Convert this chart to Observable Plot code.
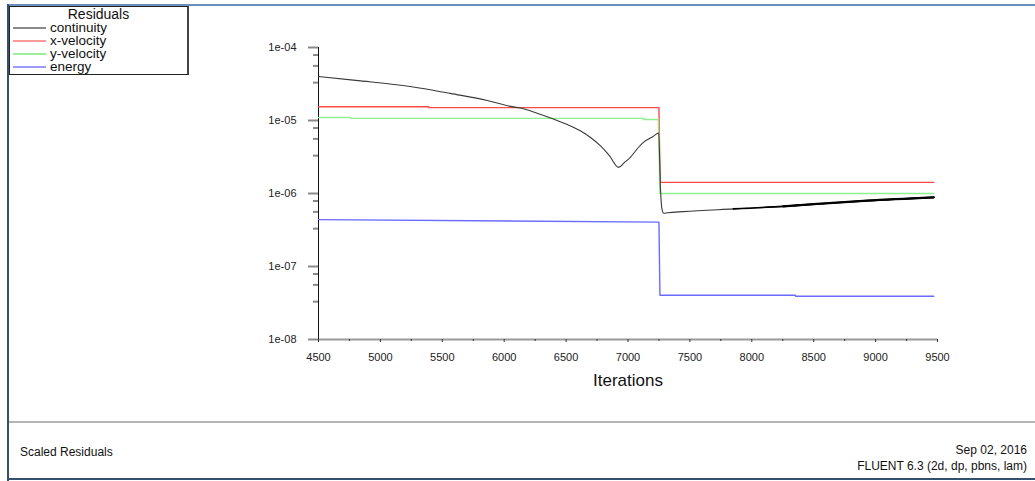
<!DOCTYPE html>
<html>
<head>
<meta charset="utf-8">
<script src="https://cdn.jsdelivr.net/npm/d3@7"></script>
<script src="https://cdn.jsdelivr.net/npm/@observablehq/plot@0.6"></script>
<style>
  html, body { margin: 0; padding: 0; background: #fff; overflow: hidden; }
  #wrap { position: relative; width: 1035px; height: 481px; font-family: "Liberation Sans", Arial, sans-serif; }
  #chart { position: absolute; left: 0; top: 0; }
  .border-top { position: absolute; left: 8px; top: 4px; width: 1027px; height: 2px; background: #6a8fc0; }
  .border-left { position: absolute; left: 7px; top: 4px; width: 2px; height: 477px; background: #34506e; }
  .border-bottom { position: absolute; left: 7px; top: 478px; width: 1028px; height: 2px; background: #34506e; }
  .sep { position: absolute; left: 9px; top: 421px; width: 1026px; height: 2px; background: #b4b4b4; }
  #legend { position: absolute; left: 9px; top: 6px; width: 177px; height: 67px; border: 1px solid #222; border-right: 2px solid #444; background: #fff; overflow: hidden; }
  #legend .title { position: absolute; left: 0; width: 177px; top: 0px; height: 14px; line-height: 14px; text-align: center; font-size: 14px; color: #111; }
  #legend .row { position: absolute; left: 2px; font-size: 13.5px; color: #111; line-height: 13px; height: 13px; }
  #legend .sw { position: absolute; left: 1px; width: 33px; height: 2px; }
  #legend .lbl { position: absolute; left: 38px; top: 0; white-space: nowrap; }
  .foot { position: absolute; font-size: 12px; color: #111; }
</style>
</head>
<body>
<div id="wrap">
  <div id="chart"></div>
  <div class="border-top"></div>
  <div class="border-left"></div>
  <div class="sep"></div>
  <div class="border-bottom"></div>
  <div id="legend"></div>
  <div class="foot" style="left:20px; top:445px;">Scaled Residuals</div>
  <div class="foot" style="right:8px; top:443px; text-align:right;">Sep 02, 2016</div>
  <div class="foot" style="right:8px; top:459px; text-align:right;">FLUENT 6.3 (2d, dp, pbns, lam)</div>
</div>
<script>
// ---- data ----
const seriesNames = ["continuity", "x-velocity", "y-velocity", "energy"];
const seriesColors = ["#3a3a3a", "#ff4a4a", "#8ef08e", "#6b6bff"];
const legendColors = ["#8a8a8a", "#ff9a9a", "#9af09a", "#9a9aff"];

const contIter = [4500, 4800, 5241, 5403, 5564, 5863, 6049, 6130, 6260, 6397, 6510, 6615, 6700, 6776, 6850, 6924, 6970, 7019, 7070, 7124, 7200, 7248, 7262, 7275, 7288, 7320, 7447, 7851, 8255, 8529, 8933, 9470];
const contVal  = [4.01e-5, 3.55e-5, 2.93e-5, 2.64e-5, 2.35e-5, 1.88e-5, 1.56e-5, 1.48e-5, 1.27e-5, 1.05e-5, 8.8e-6, 7.24e-6, 5.8e-6, 4.52e-6, 3.3e-6, 2.28e-6, 2.65e-6, 3.13e-6, 4.0e-6, 5.01e-6, 6.0e-6, 6.75e-6, 1.2e-6, 6.0e-7, 5.36e-7, 5.45e-7, 5.65e-7, 6.15e-7, 6.67e-7, 7.19e-7, 7.98e-7, 8.85e-7];

const xvelIter = [4500, 5390, 5391, 7250, 7256, 7262, 9470];
const xvelVal  = [1.545e-5, 1.545e-5, 1.50e-5, 1.50e-5, 3.0e-6, 1.42e-6, 1.42e-6];

const yvelIter = [4500, 4760, 4761, 7124, 7125, 7245, 7258, 9470];
const yvelVal  = [1.10e-5, 1.10e-5, 1.07e-5, 1.07e-5, 1.03e-5, 1.03e-5, 1.0e-6, 1.0e-6];

const enerIter = [4500, 7250, 7258, 8353, 8354, 9470];
const enerVal  = [4.39e-7, 4.05e-7, 4.04e-8, 4.04e-8, 3.92e-8, 3.92e-8];

const yMajorTicks = [1e-4, 1e-5, 1e-6, 1e-7, 1e-8];
const yMinorMult = [0.79, 0.56, 0.33];
const xMajorTicks = [4500, 5000, 5500, 6000, 6500, 7000, 7500, 8000, 8500, 9000, 9500];
const xMinorTicks = [4750, 5250, 5750, 6250, 6750, 7250, 7750, 8250, 8750, 9250];

// ---- build ----
function toRows(name, its, vals) { return its.map((it, i) => ({series: name, it, v: vals[i]})); }
const rows = [
  ...toRows("continuity", contIter, contVal),
  ...toRows("x-velocity", xvelIter, xvelVal),
  ...toRows("y-velocity", yvelIter, yvelVal),
  ...toRows("energy", enerIter, enerVal)
];
const yMinorTicks = [];
for (const d of [1e-4, 1e-5, 1e-6, 1e-7]) for (const m of yMinorMult) yMinorTicks.push(d * m);

const fmt = d => "1e-0" + Math.round(-Math.log10(d));

const chart = Plot.plot({
  width: 1035,
  height: 423,
  marginLeft: 318,
  marginRight: 98,
  marginTop: 47,
  marginBottom: 84,
  style: {fontFamily: "'Liberation Sans', Arial, sans-serif", background: "transparent"},
  x: {domain: [4500, 9500]},
  y: {type: "log", domain: [1e-8, 1e-4]},
  color: {domain: seriesNames, range: seriesColors},
  marks: [
    Plot.ruleY([1e-8], {stroke: "#9a9a9a", strokeWidth: 2}),
    Plot.axisY({ticks: yMajorTicks, tickSize: 10, tickPadding: 12, tickFormat: fmt, label: null, fontSize: 11, stroke: "#8a8a8a", strokeWidth: 2, fill: "#222"}),
    Plot.axisY({ticks: yMinorTicks, tickSize: 5, tickFormat: () => "", label: null, stroke: "#8a8a8a", strokeWidth: 2}),
    Plot.ruleX([4500], {stroke: "#111", strokeWidth: 1}),
    Plot.axisX({ticks: xMajorTicks, tickSize: 3, tickPadding: 11, tickFormat: d => String(d), label: null, fontSize: 11, stroke: "#333", fill: "#222"}),
    Plot.axisX({ticks: xMinorTicks, tickSize: 2, tickFormat: () => "", label: null, stroke: "#333"}),
    Plot.line(rows.filter(d => d.series !== "continuity"), {x: "it", y: "v", z: "series", stroke: "series", strokeWidth: 1.4}),
    Plot.line(rows.filter(d => d.series === "continuity"), {x: "it", y: "v", stroke: "series", strokeWidth: 1.1, curve: "monotone-x"}),
    Plot.line(rows.filter(d => d.series === "continuity" && d.it >= 7851), {x: "it", y: "v", stroke: "#000", strokeWidth: 1.6, curve: "monotone-x"}),
    Plot.line(rows.filter(d => d.series === "continuity" && d.it >= 8255), {x: "it", y: "v", stroke: "#000", strokeWidth: 2.2, curve: "monotone-x"}),
    Plot.text(["Iterations"], {frameAnchor: "bottom", dy: 46, fontSize: 17, fill: "#111"})
  ]
});
document.getElementById("chart").appendChild(chart);

// legend
const lg = document.getElementById("legend");
const t = document.createElement("div");
t.className = "title"; t.textContent = "Residuals"; lg.appendChild(t);
seriesNames.forEach((n, i) => {
  const r = document.createElement("div");
  r.className = "row";
  r.style.top = (14 + i * 13) + "px";
  r.style.width = "170px";
  r.innerHTML = `<span class="sw" style="top:6px;background:${legendColors[i]}"></span><span class="lbl">${n}</span>`;
  lg.appendChild(r);
});
</script>
</body>
</html>
